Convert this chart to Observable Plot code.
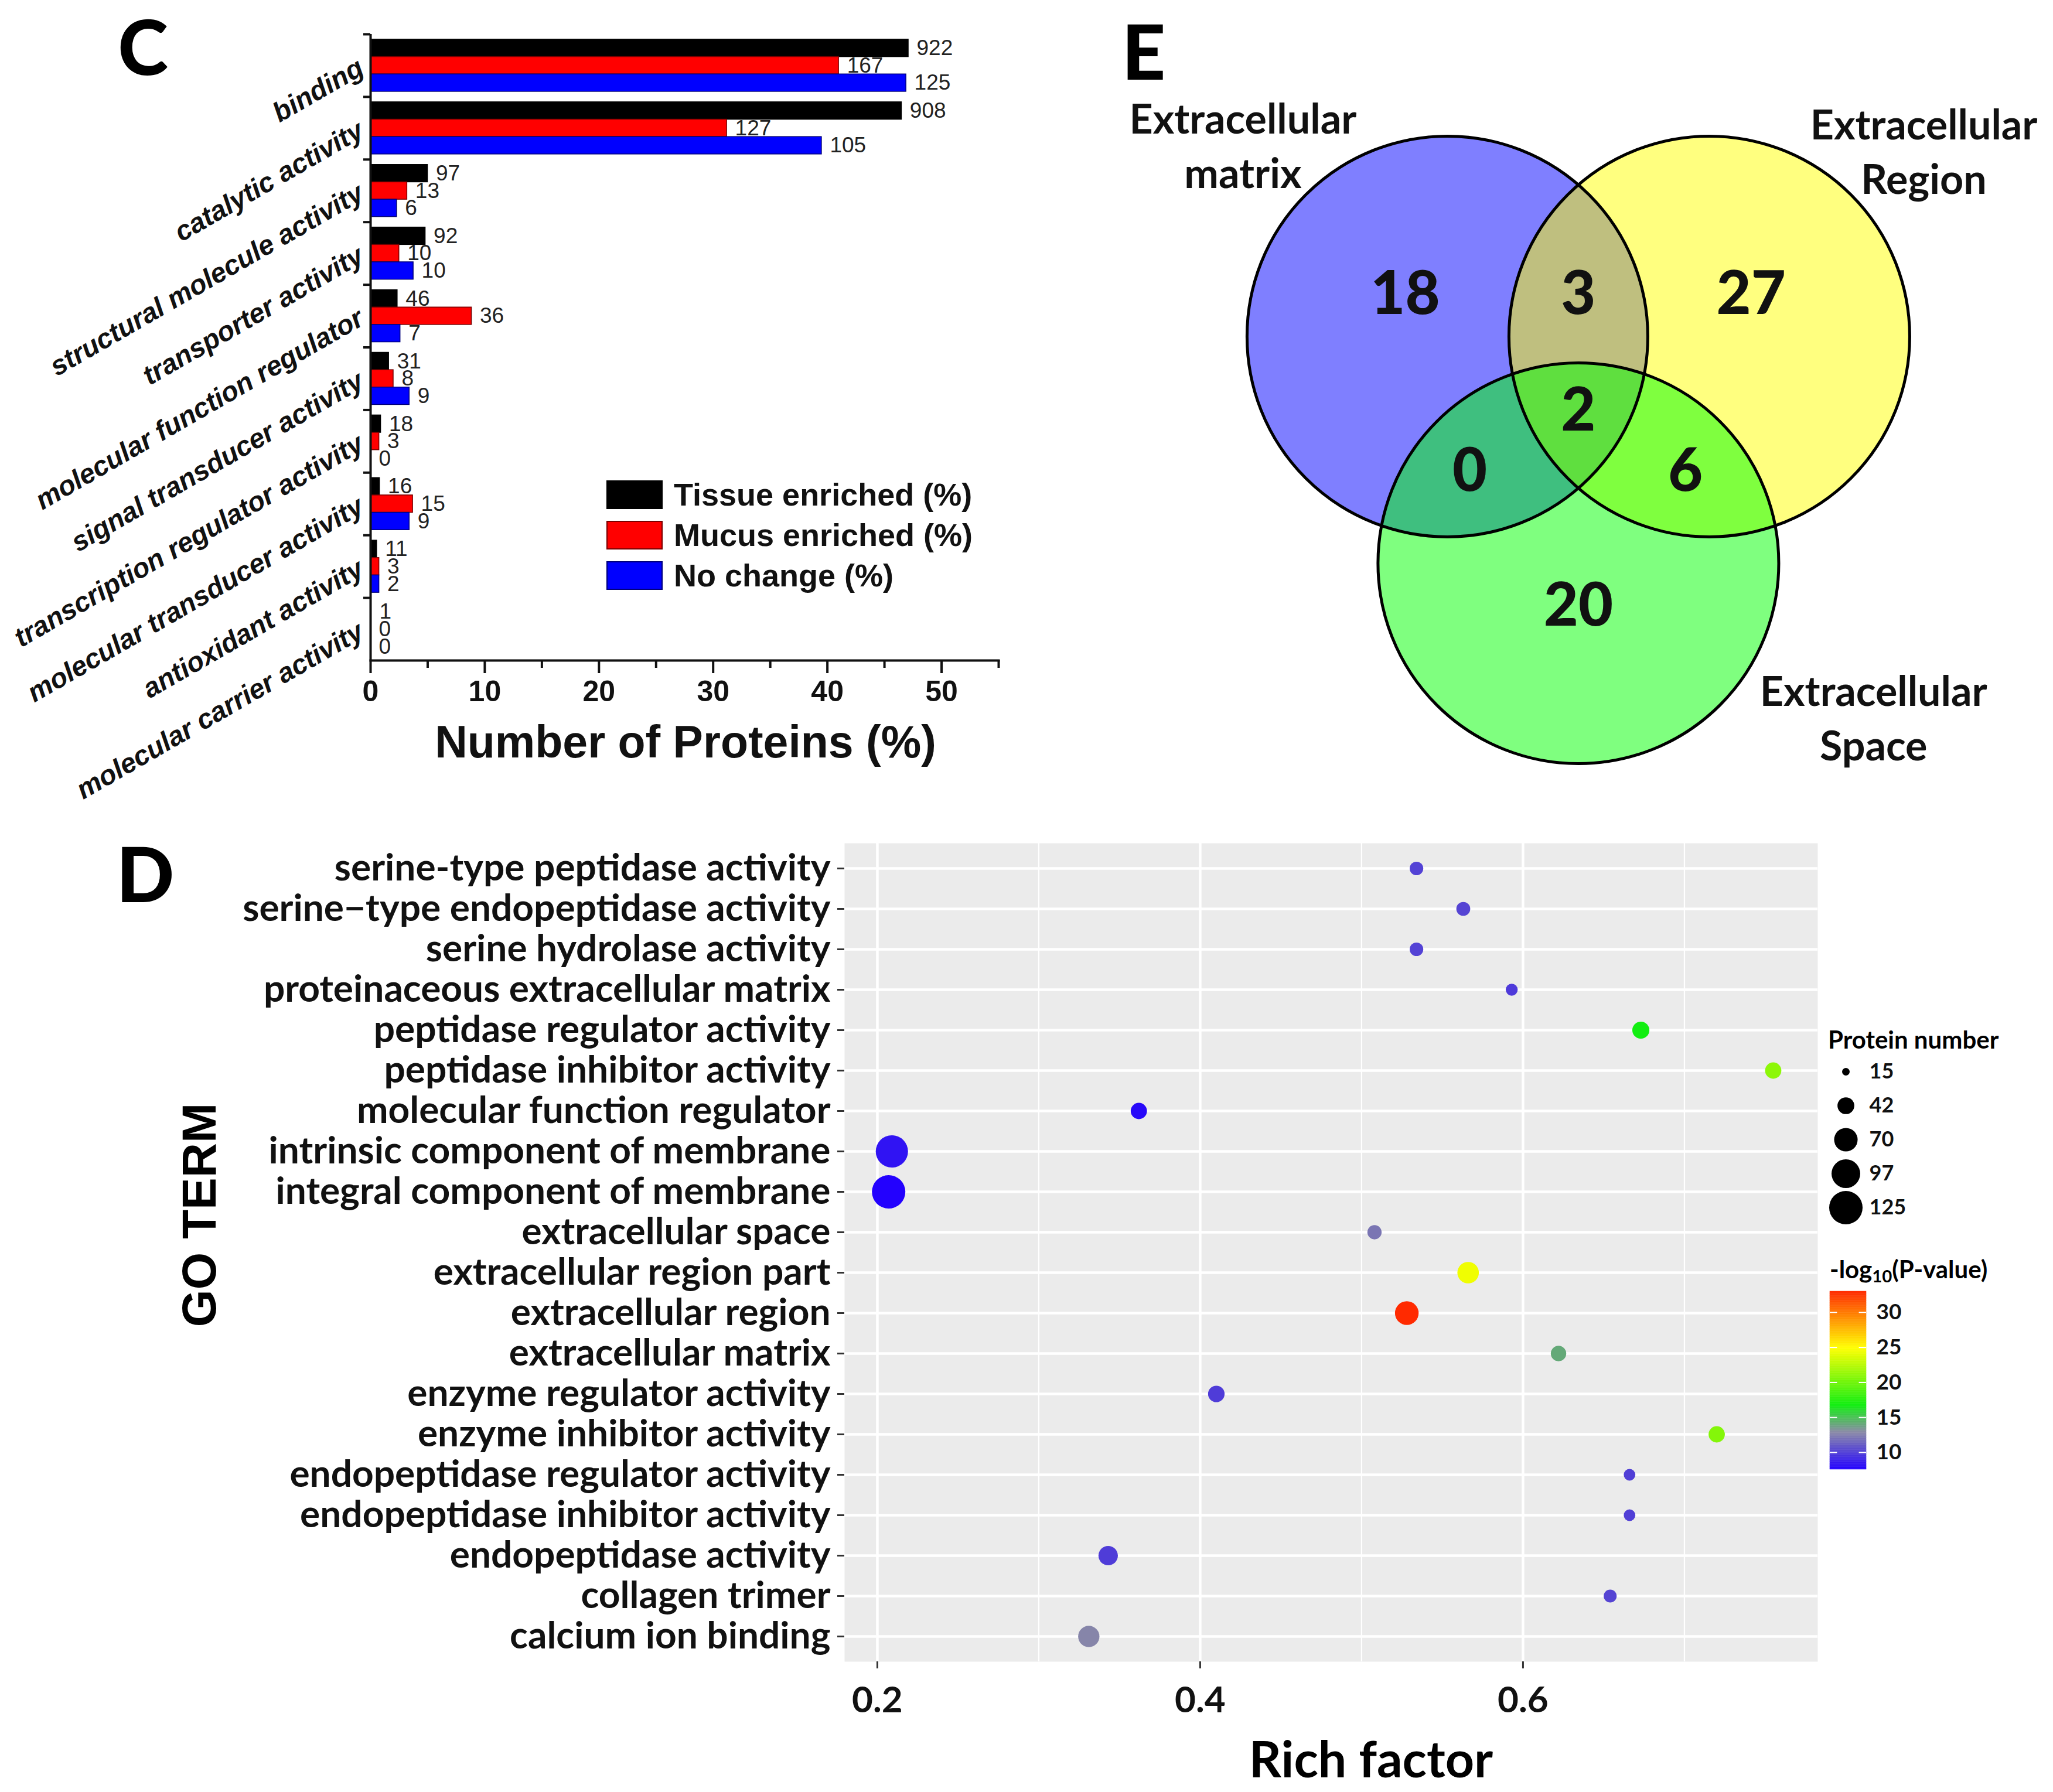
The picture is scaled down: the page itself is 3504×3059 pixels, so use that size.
<!DOCTYPE html>
<html><head><meta charset="utf-8">
<script src="https://cdn.jsdelivr.net/npm/d3@7"></script>
<script src="https://cdn.jsdelivr.net/npm/@observablehq/plot@0.6"></script>
<style>
html,body{margin:0;padding:0;background:#fff;}
#fig{position:relative;width:3504px;height:3059px;overflow:hidden;background:#fff;}
.t{position:absolute;white-space:nowrap;line-height:1;}
</style></head><body><div id="fig"></div>
<script>
// ---------------- Panel C data ----------------
const goCategories = ["binding","catalytic activity","structural molecule activity","transporter activity","molecular function regulator","signal transducer activity","transcription regulator activity","molecular transducer activity","antioxidant activity","molecular carrier activity"];
const seriesNames = ["Tissue enriched (%)","Mucus enriched (%)","No change (%)"];
const tissuePct   = [47.1, 46.5, 5.0, 4.8, 2.35, 1.6, 0.9, 0.8, 0.55, 0.05];
const mucusPct    = [41.0, 31.2, 3.2, 2.5, 8.85, 2.0, 0.75, 3.7, 0.75, 0];
const noChangePct = [46.9, 39.5, 2.3, 3.75, 2.6, 3.4, 0, 3.4, 0.75, 0];
const tissueCount   = [922, 908, 97, 92, 46, 31, 18, 16, 11, 1];
const mucusCount    = [167, 127, 13, 10, 36, 8, 3, 15, 3, 0];
const noChangeCount = [125, 105, 6, 10, 7, 9, 0, 9, 2, 0];
const cMajorTicks = [0, 10, 20, 30, 40, 50];
const cMinorTicks = [5, 15, 25, 35, 45, 55];

// ---------------- Panel E data ----------------
const vennSetNames = ["Extracellular\nmatrix", "Extracellular\nRegion", "Extracellular\nSpace"];
const vennRegionNames = ["matrix only","matrix & region","region only","all three","matrix & space","region & space","space only"];
const vennRegionCounts = [18, 3, 27, 2, 0, 6, 20];

// ---------------- Panel D data ----------------
const termNames = ["serine-type peptidase activity","serine\u2212type endopeptidase activity","serine hydrolase activity","proteinaceous extracellular matrix","peptidase regulator activity","peptidase inhibitor activity","molecular function regulator","intrinsic component of membrane","integral component of membrane","extracellular space","extracellular region part","extracellular region","extracellular matrix","enzyme regulator activity","enzyme inhibitor activity","endopeptidase regulator activity","endopeptidase inhibitor activity","endopeptidase activity","collagen trimer","calcium ion binding"];
const richFactor    = [0.534, 0.563, 0.534, 0.593, 0.673, 0.755, 0.362, 0.209, 0.207, 0.508, 0.566, 0.528, 0.622, 0.410, 0.720, 0.666, 0.666, 0.343, 0.654, 0.331];
const proteinNumber = [31, 32, 31, 26, 43, 40, 40, 118, 125, 33, 61, 71, 37, 41, 40, 25, 25, 52, 29, 60];
const negLog10P     = [10.1, 10.2, 10.1, 9.8, 16.8, 21.0, 7.9, 8.3, 7.6, 12.1, 24.4, 33.0, 14.1, 9.9, 20.7, 10.0, 10.0, 9.9, 10.2, 12.7];
const rfMajorTicks = [0.2, 0.4, 0.6];
const rfMinorTicks = [0.3, 0.5, 0.7];
const sizeBreaks = [15, 42, 70, 97, 125];
const colorBreaks = [10, 15, 20, 25, 30];

// ---------------- styles ----------------
const fig = document.getElementById("fig");
const ARIAL = "'Liberation Sans', Arial, sans-serif";
const LATO = "Lato, 'Open Sans', sans-serif";
const seriesFill = ["#000000", "#ff0000", "#0000ff"];
const seriesStroke = ["#000000", "#7a0000", "#00007a"];

function put(el, left, top) { el.style.position = "absolute"; el.style.left = left + "px"; el.style.top = top + "px"; fig.appendChild(el); return el; }
function txt(html, x, y, o) {
  const d = document.createElement("div");
  d.className = "t";
  d.innerHTML = html;
  d.style.left = x + "px"; d.style.top = y + "px";
  d.style.fontSize = o.size + "px";
  d.style.fontFamily = o.family || LATO;
  d.style.fontWeight = o.weight || "bold";
  d.style.fontStyle = o.style || "normal";
  d.style.color = o.color || "#000";
  const ax = o.anchor === "start" ? "0" : o.anchor === "end" ? "-100%" : "-50%";
  d.style.transform = `translate(${ax},-50%)` + (o.rotate ? ` rotate(${o.rotate}deg)` : "");
  fig.appendChild(d);
  return d;
}

// ================= Panel C =================
{
  const W = 1750, H = 1350, mt = 58, mb = 223, ml = 632, mr = 46;
  const xMax = 55;
  const padIn = 0.168, padOut = 0.084;
  const step = (H - mt - mb) / (goCategories.length - padIn + 2 * padOut);
  const third = step * (1 - padIn) / 3;
  const pxPerPct = (W - ml - mr) / xMax;
  const pcts = [tissuePct, mucusPct, noChangePct];
  const counts = [tissueCount, mucusCount, noChangeCount];
  const rows = seriesNames.map((s, j) => goCategories.map((c, i) => ({category: c, series: s, pct: pcts[j][i], n: counts[j][i]})));
  const marks = [];
  rows.forEach((r, j) => {
    marks.push(Plot.barX(r, {x: "pct", y: "category", fill: seriesFill[j], stroke: seriesStroke[j], strokeWidth: 1.5,
      insetTop: j * third, insetBottom: (2 - j) * third}));
  });
  rows.forEach((r, j) => {
    marks.push(Plot.text(r, {x: "pct", y: "category", text: d => String(d.n), dy: (j - 1) * third, dx: 14,
      textAnchor: "start", fontSize: 37, fontFamily: ARIAL, fill: "#222"}));
  });
  marks.push(
    // small ticks at the group boundaries on the category axis
    Plot.ruleY(goCategories, {y: d => d, x1: -12 / pxPerPct, x2: 0, dy: -step / 2, stroke: "#111", strokeWidth: 4}),
    Plot.axisY({label: null, tickSize: 0, tickPadding: 16, tickRotate: -30, fontSize: 47, fontStyle: "italic", fontWeight: "bold", fontFamily: ARIAL, fill: "#111"}),
    Plot.axisX({label: null, ticks: cMajorTicks, tickSize: 22, tickPadding: 12, strokeWidth: 4, fontSize: 50, fontWeight: "bold", fontFamily: ARIAL, fill: "#111", stroke: "#111"}),
    Plot.axisX({label: null, ticks: cMinorTicks, tickSize: 13, strokeWidth: 4, tickFormat: () => "", stroke: "#111"}),
    Plot.ruleX([0], {stroke: "#111", strokeWidth: 4}),
    Plot.frame({anchor: "bottom", stroke: "#111", strokeWidth: 4})
  );
  const svg = Plot.plot({
    width: W, height: H, marginTop: mt, marginBottom: mb, marginLeft: ml, marginRight: mr,
    style: {background: "transparent", color: "#111", overflow: "visible"},
    x: {domain: [0, xMax], axis: null, label: null},
    y: {type: "band", domain: goCategories, paddingInner: padIn, paddingOuter: padOut, round: false, axis: null, label: null},
    marks
  });
  put(svg, 0, 0);

  // legend
  const boxTop = [820, 889, 958];
  seriesNames.forEach((s, j) => {
    const b = document.createElement("div");
    b.style.width = "92px"; b.style.height = "45px";
    b.style.background = seriesFill[j];
    b.style.border = "2px solid " + seriesStroke[j];
    put(b, 1035, boxTop[j]);
    txt(s, 1150, boxTop[j] + 24, {size: 54, family: ARIAL, anchor: "start", color: "#111"});
  });
  txt("Number of Proteins (%)", 1170, 1266, {size: 77, family: ARIAL, color: "#111"});
  txt("C", 244, 78, {size: 130, family: LATO, weight: "900"});
}

// ================= Panel E =================
{
  const W = 1654, H = 1380;
  const x0 = -2.466, x1 = 2.370;
  const pxPerUnit = W / (x1 - x0);
  const yTop = 1.678, yBot = yTop - H / pxPerUnit;
  const spacing = 1.307;               // distance between circle centres, in radius units
  const cx = [-spacing / 2, spacing / 2, 0];
  const cy = [0, 0, -spacing * Math.sqrt(3) / 2];
  const setColors = ["#0000ff", "#ffff00", "#00ff00"];
  const sets = vennSetNames.map((name, i) => ({name, x: cx[i], y: cy[i], color: setColors[i]}));
  // layout anchors of the region labels and set labels (radius units)
  const regionAt = [[-0.864, 0.208], [0, 0.208], [0.862, 0.208], [0, -0.374], [-0.542, -0.675], [0.534, -0.675], [0, -1.348]];
  const setLabelAt = [[-1.674, 0.965], [1.724, 0.936], [1.473, -1.892]];
  const regions = vennRegionNames.map((name, i) => ({name, count: vennRegionCounts[i], x: regionAt[i][0], y: regionAt[i][1]}));
  const setLabels = sets.map((s, i) => ({name: s.name, x: setLabelAt[i][0], y: setLabelAt[i][1]}));
  const svg = Plot.plot({
    width: W, height: H, margin: 0,
    style: {background: "transparent", overflow: "visible"},
    x: {domain: [x0, x1], axis: null},
    y: {domain: [yBot, yTop], axis: null},
    color: {type: "identity"},
    marks: [
      Plot.dot(sets, {x: "x", y: "y", r: pxPerUnit, fill: "color", fillOpacity: 0.5, stroke: null}),
      Plot.dot(sets, {x: "x", y: "y", r: pxPerUnit, fill: "none", stroke: "#000", strokeWidth: 5}),
      Plot.text(regions, {x: "x", y: "y", text: d => String(d.count), fontSize: 102, fontWeight: "900", fontFamily: LATO, fill: "#111"}),
      Plot.text(setLabels, {x: "x", y: "y", text: "name", fontSize: 70, lineHeight: 1.33, fontWeight: "bold", fontFamily: LATO, fill: "#111"})
    ]
  });
  put(svg, 1850, 0);
  txt("E", 1952, 86, {size: 130, family: LATO, weight: "900"});
}

// ================= Panel D =================
const colorCfg = {type: "linear", domain: [7.57, 12.9, 16.75, 24.9, 33.0], range: ["#2200ff", "#8a8aa6", "#11ee11", "#ffff00", "#ff2a00"], interpolate: "rgb"};
const rCfg = {type: "sqrt", domain: [15, 125], range: [6.5, 28.5]};
{
  const top = 1380, W = 3504, H = 1679;
  const rows = termNames.map((t, i) => ({term: t, rich: richFactor[i], n: proteinNumber[i], p: negLog10P[i]}));
  const svg = Plot.plot({
    width: W, height: H, marginLeft: 1441, marginRight: 402, marginTop: 59, marginBottom: 223,
    style: {background: "transparent", color: "#222", overflow: "visible"},
    x: {domain: [0.1797, 0.7826], axis: null, label: null},
    y: {type: "point", domain: termNames, padding: 0.6, axis: null, label: null},
    r: rCfg,
    color: colorCfg,
    marks: [
      Plot.frame({fill: "#ebebeb", stroke: null}),
      Plot.ruleX(rfMinorTicks, {stroke: "#fff", strokeWidth: 2.3}),
      Plot.ruleX(rfMajorTicks, {stroke: "#fff", strokeWidth: 4.5}),
      Plot.ruleY(termNames, {stroke: "#fff", strokeWidth: 4.5}),
      Plot.dot(rows, {x: "rich", y: "term", r: "n", fill: "p", stroke: null}),
      Plot.axisY({label: null, tickSize: 12, tickPadding: 12, strokeWidth: 3, stroke: "#333", fontSize: 64, fontWeight: "bold", fontFamily: LATO, fill: "#111"}),
      Plot.axisX({label: null, ticks: rfMajorTicks, tickFormat: ".1f", tickSize: 12, tickPadding: 30, strokeWidth: 3, stroke: "#333", fontSize: 62, fontWeight: "bold", fontFamily: LATO, fill: "#111"})
    ]
  });
  put(svg, 0, top);
  txt("D", 248, 1490, {size: 130, family: LATO, weight: "900"});
  txt("Rich factor", 2340, 3001, {size: 86, family: LATO});
  txt("GO TERM", 340, 2074, {size: 82, family: ARIAL, rotate: -90});
}

// size legend
{
  const svg = Plot.plot({
    width: 382, height: 360, marginLeft: 0, marginRight: 326, marginTop: 88, marginBottom: 39,
    style: {background: "transparent", overflow: "visible"},
    x: {axis: null},
    y: {type: "point", domain: sizeBreaks, padding: 0, axis: null},
    r: rCfg,
    marks: [
      Plot.dot(sizeBreaks, {y: d => d, r: d => d, fill: "#000", frameAnchor: "middle"}),
      Plot.text(sizeBreaks, {y: d => d, text: d => String(d), dx: 40, textAnchor: "start", frameAnchor: "middle", fontSize: 36, fontWeight: "bold", fontFamily: LATO, fill: "#111"})
    ]
  });
  put(svg, 3122, 1740);
  txt("Protein number", 3120, 1774, {size: 42, family: LATO, anchor: "start"});
}

// colour legend
{
  const lo = colorCfg.domain[0], hi = colorCfg.domain[colorCfg.domain.length - 1];
  const n = 200;
  const ramp = d3.range(n).map(i => ({y1: lo + (hi - lo) * i / n, y2: lo + (hi - lo) * (i + 1) / n, v: lo + (hi - lo) * (i + 0.5) / n}));
  const svg = Plot.plot({
    width: 404, height: 360, marginLeft: 23, marginRight: 319, marginTop: 24, marginBottom: 32,
    style: {background: "transparent", overflow: "visible"},
    x: {domain: [0, 1], axis: null},
    y: {domain: [lo, hi], axis: null},
    color: colorCfg,
    marks: [
      Plot.rect(ramp, {x1: 0, x2: 1, y1: "y1", y2: "y2", fill: "v", stroke: "v", strokeWidth: 0.5}),
      Plot.ruleY(colorBreaks, {x1: 0, x2: 0.2, stroke: "#fff", strokeWidth: 2}),
      Plot.ruleY(colorBreaks, {x1: 0.8, x2: 1, stroke: "#fff", strokeWidth: 2}),
      Plot.text(colorBreaks, {x: 1, y: d => d, text: d => String(d), dx: 17, textAnchor: "start", fontSize: 37, fontWeight: "bold", fontFamily: LATO, fill: "#111"})
    ]
  });
  put(svg, 3100, 2180);
  txt("-log<sub style='font-size:0.7em;vertical-align:-0.25em'>10</sub>(P-value)", 3123, 2169, {size: 42, family: LATO, anchor: "start"});
}
</script></body></html>
